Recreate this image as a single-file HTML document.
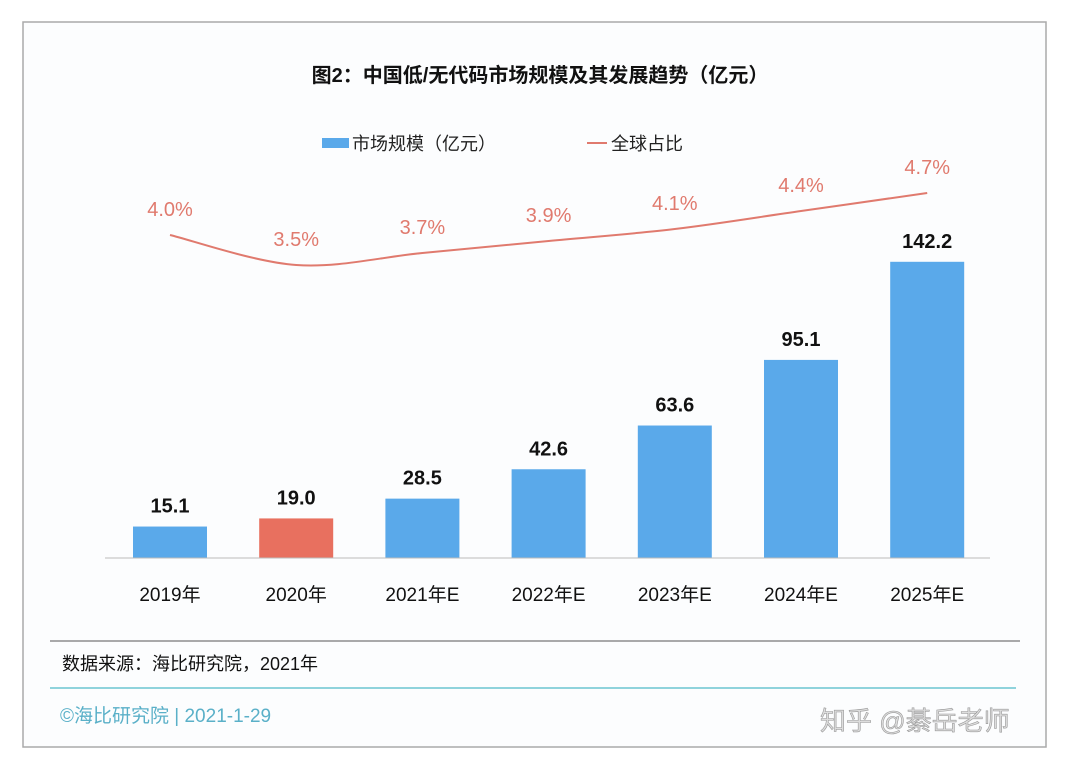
<!DOCTYPE html>
<html><head><meta charset="utf-8">
<style>
body{margin:0;background:#fff;width:1080px;height:767px;overflow:hidden;font-family:"Liberation Sans","Noto Sans CJK SC",sans-serif;}
svg{display:block}
</style></head>
<body>
<svg width="1080" height="767">
<rect x="23" y="22" width="1023" height="725" fill="#fcfdfe" stroke="#aaa" stroke-width="1.5"/>
<text x="540" y="82" text-anchor="middle" font-size="20" font-weight="bold" fill="#111">图2：中国低/无代码市场规模及其发展趋势（亿元）</text>
<g>
<rect x="322" y="138" width="27" height="10" fill="#5aa9ea"/>
<text x="352" y="150" font-size="18" fill="#222">市场规模（亿元）</text>
<line x1="587" y1="143" x2="607" y2="143" stroke="#e07a6e" stroke-width="2"/>
<text x="611" y="150" font-size="18" fill="#222">全球占比</text>
</g>
<g id="marks"></g>
<line x1="105" y1="558" x2="990" y2="558" stroke="#bbb" stroke-width="1"/>
<line x1="50" y1="641" x2="1020" y2="641" stroke="#777" stroke-width="1.2"/>
<text x="62" y="670" font-size="18" fill="#111">数据来源：海比研究院，2021年</text>
<line x1="50" y1="688" x2="1016" y2="688" stroke="#8fd3dc" stroke-width="2"/>
<text x="60" y="722" font-size="19" fill="#5ab0c8">©海比研究院 | 2021-1-29</text>
<text x="820" y="730" font-size="26" fill="#ddd" stroke="#999" stroke-width="0.6">知乎 @綦岳老师</text>
</svg>
<script>
const categories=["2019年","2020年","2021年E","2022年E","2023年E","2024年E","2025年E"];
const marketSize=[15.1,19.0,28.5,42.6,63.6,95.1,142.2];
const globalShare=[4.0,3.5,3.7,3.9,4.1,4.4,4.7];
const shareLabels=["4.0%","3.5%","3.7%","3.9%","4.1%","4.4%","4.7%"];
const NS="http://www.w3.org/2000/svg";
const g=document.getElementById('marks');
const xc=i=>170+i*126.2;
const yBar=v=>558-v*2.083;
const yLine=p=>235-(p-4)*60;
function mk(t,a){const e=document.createElementNS(NS,t);for(const k in a)e.setAttribute(k,a[k]);g.appendChild(e);return e;}
categories.forEach((c,i)=>{
 const y=yBar(marketSize[i]);
 const r=mk('rect',{x:xc(i)-37,y:y,width:74,height:558-y,fill:i===1?'#e8705f':'#5aa9ea'});
 
 
 const t=mk('text',{x:xc(i),y:y-14,'text-anchor':'middle','font-size':20,'font-weight':'bold',fill:'#111'});
 t.textContent=marketSize[i].toFixed(1);
 
 
 const l=mk('text',{x:xc(i),y:601,'text-anchor':'middle','font-size':19,fill:'#111'});
 l.textContent=c;
 
 
 const s=mk('text',{x:xc(i),y:yLine(globalShare[i])-19,'text-anchor':'middle','font-size':20,fill:'#e07a6e'});
 s.textContent=shareLabels[i];
 
 
});
const pts=globalShare.map((p,i)=>[xc(i),yLine(p)]);
let d='M'+pts[0][0]+','+pts[0][1];
for(let i=0;i<pts.length-1;i++){
 const p0=pts[Math.max(0,i-1)],p1=pts[i],p2=pts[i+1],p3=pts[Math.min(pts.length-1,i+2)];
 const c1=[p1[0]+(p2[0]-p0[0])/6,p1[1]+(p2[1]-p0[1])/6],c2=[p2[0]-(p3[0]-p1[0])/6,p2[1]-(p3[1]-p1[1])/6];
 d+=` C${c1[0]},${c1[1]} ${c2[0]},${c2[1]} ${p2[0]},${p2[1]}`;
}
const path=mk('path',{d:d,fill:'none',stroke:'#e07a6e','stroke-width':2});


</script>
</body></html>
